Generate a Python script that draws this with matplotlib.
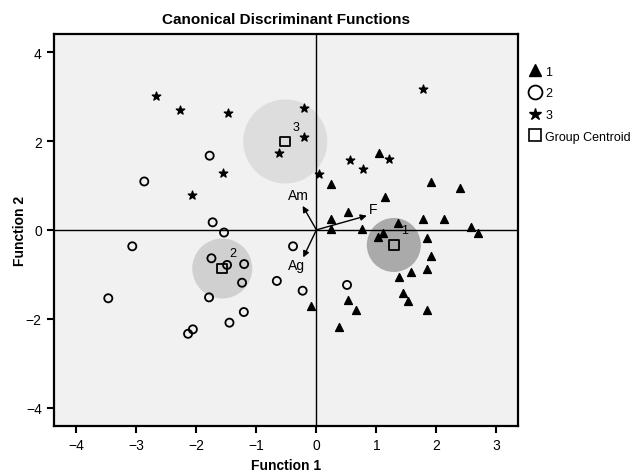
import numpy as np
import matplotlib
matplotlib.use("Agg")
import matplotlib.pyplot as plt
from matplotlib.lines import Line2D

plt.rcParams['font.family'] = ['Liberation Sans', 'DejaVu Sans']

# group 1 (triangles)
g1_x = [1.04, 0.245, 1.91, 2.40, 1.15, 0.52, 0.235, 1.78, 2.13, 1.36, 2.58,
        0.235, 0.76, 2.70, 1.11, 1.03, 1.84, 1.91, 1.84, 1.57, 1.37, 1.45,
        1.52, 1.85, 0.52, 0.66, 0.38, -0.09]
g1_y = [1.74, 1.04, 1.08, 0.95, 0.75, 0.41, 0.24, 0.24, 0.24, 0.15, 0.07,
        0.02, 0.02, -0.07, -0.07, -0.17, -0.19, -0.59, -0.89, -0.94, -1.07, -1.43,
        -1.61, -1.80, -1.57, -1.81, -2.18, -1.71]

# group 2 (open circles)
g2_x = [-1.78, -2.87, -1.73, -1.54, -3.07, -1.75, -1.205, -1.49, -1.24, -0.39,
        -0.66, -0.23, -3.47, -1.79, -1.21, -1.45, -2.06, -2.14, 0.51]
g2_y = [1.67, 1.09, 0.17, -0.06, -0.37, -0.64, -0.77, -0.79, -1.19, -0.37,
        -1.15, -1.37, -1.54, -1.52, -1.85, -2.09, -2.24, -2.34, -1.24]

# group 3 (stars)
g3_x = [-2.68, -2.27, -1.48, -0.205, -0.205, -0.63, -1.555, -2.08, 0.04,
        1.78, 0.56, 0.78, 1.21]
g3_y = [3.02, 2.70, 2.63, 2.75, 2.09, 1.72, 1.28, 0.79, 1.26,
        3.17, 1.57, 1.38, 1.59]

# group centroids
cent_x = [1.29, -1.57, -0.52]
cent_y = [-0.34, -0.87, 1.99]
cent_labels = ['1', '2', '3']

# structure vectors
vec_names = ['Am', 'F', 'Ag']
vec_x = [-0.23, 0.84, -0.22]
vec_y = [0.54, 0.32, -0.62]

fig = plt.figure(figsize=(6.32, 4.77), dpi=100)
ax = fig.add_axes([0.0859, 0.1054, 0.7337, 0.8212])
ax.set_facecolor('#f1f1f1')

# shaded discs around the centroids
disc_sizes = [1512, 1866, 3660]
disc_colors = ['#aaaaaa', '#d0d0d0', '#dddddd']
for cx, cy, s, c in zip(cent_x, cent_y, disc_sizes, disc_colors):
    ax.scatter([cx], [cy], s=s, color=c, edgecolors='none', zorder=1)

ax.axhline(0, color='black', lw=1.0, zorder=2)
ax.axvline(0, color='black', lw=1.0, zorder=2)

ax.scatter(g1_x, g1_y, marker='^', s=32, color='black', zorder=3)
ax.scatter(g2_x, g2_y, marker='o', s=34, facecolors='none',
           edgecolors='black', linewidths=1.3, zorder=3)
ax.scatter(g3_x, g3_y, marker='*', s=40, color='black', zorder=3)
ax.scatter(cent_x, cent_y, marker='s', s=50, facecolors='none',
           edgecolors='black', linewidths=1.3, zorder=4)

label_dx = [0.18, 0.17, 0.18]
label_dy = [0.33, 0.34, 0.32]
for cx, cy, lab, dx, dy in zip(cent_x, cent_y, cent_labels, label_dx, label_dy):
    ax.text(cx + dx, cy + dy, lab, fontsize=9, ha='center', va='center', zorder=5)

text_off = [(-0.07, 0.25), (0.11, 0.16), (-0.12, -0.18)]
for name, vx, vy, (tx, ty) in zip(vec_names, vec_x, vec_y, text_off):
    ax.annotate('', xy=(vx, vy), xytext=(0, 0),
                arrowprops=dict(arrowstyle='-|>', color='black', lw=1.0,
                                mutation_scale=9, shrinkA=0, shrinkB=0),
                zorder=5)
    ax.text(vx + tx, vy + ty, name, fontsize=10, ha='center', va='center',
            zorder=5)

ax.set_xlim(-4.37, 3.36)
ax.set_ylim(-4.41, 4.41)
ax.set_xticks([-4, -3, -2, -1, 0, 1, 2, 3])
ax.set_yticks([-4, -2, 0, 2, 4])
ax.tick_params(direction='out', length=5, width=1.5, labelsize=10, pad=4)
for sp in ax.spines.values():
    sp.set_linewidth(1.6)

ax.set_title('Canonical Discriminant Functions', fontsize=11, fontweight='bold', pad=8)
ax.set_xlabel('Function 1', fontsize=10, fontweight='bold', labelpad=4)
ax.set_ylabel('Function 2', fontsize=10, fontweight='bold', labelpad=-1)

handles = [
    Line2D([], [], marker='^', color='black', ls='none', markersize=8),
    Line2D([], [], marker='o', markerfacecolor='none', markeredgecolor='black',
           ls='none', markersize=10, markeredgewidth=1.3),
    Line2D([], [], marker='*', color='black', ls='none', markersize=9),
    Line2D([], [], marker='s', markerfacecolor='none', markeredgecolor='black',
           ls='none', markersize=8, markeredgewidth=1.2),
]
fig.legend(handles, ['1', '2', '3', 'Group Centroid'], loc='upper left',
           bbox_to_anchor=(0.828, 0.871), frameon=False, fontsize=9,
           handlelength=1.0, handletextpad=0.35, labelspacing=0.78,
           borderaxespad=0)

fig.savefig('out.png', dpi=100)
